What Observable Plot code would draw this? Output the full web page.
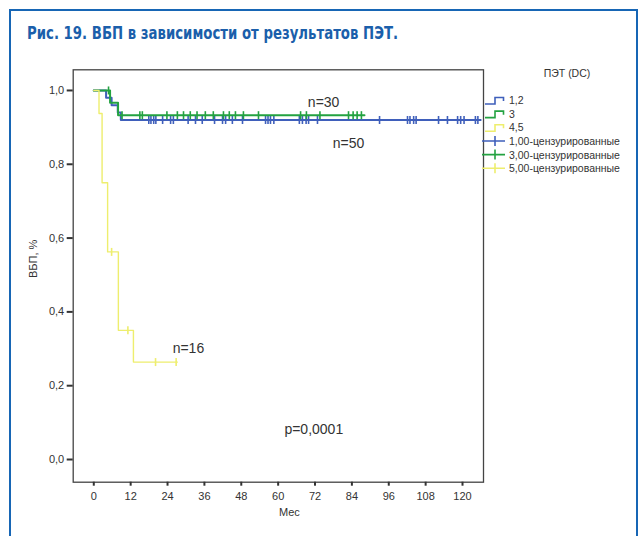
<!DOCTYPE html>
<html>
<head>
<meta charset="utf-8">
<script src="https://cdn.jsdelivr.net/npm/d3@7"></script>
<script src="https://cdn.jsdelivr.net/npm/@observablehq/plot@0.6"></script>
<style>
  html, body { margin: 0; padding: 0; background: #fff; }
  #wrap { position: relative; width: 644px; height: 536px; overflow: hidden; font-family: "Liberation Sans", Arial, sans-serif; }
  #box { position: absolute; left: 9px; top: 9px; width: 629px; height: 600px; border: 2.5px solid #1766b5; box-sizing: border-box; }
  #title { position: absolute; left: 0; top: 0; }
  #chart { position: absolute; left: 0; top: 0; }
</style>
</head>
<body>
<div id="wrap">
  <div id="box"></div>
  <svg id="title" width="644" height="50">
    <text x="27" y="39" textLength="371" lengthAdjust="spacingAndGlyphs"
      font-family="'Liberation Sans Narrow', 'DejaVu Sans Condensed', 'Liberation Sans', sans-serif"
      font-weight="bold" font-size="17" fill="#1b5fab">Рис. 19. ВБП в зависимости от результатов ПЭТ.</text>
  </svg>
  <div id="chart"></div>
</div>
<script>
// PET groups (Deauville score) and their sizes
const groups = ["1,2", "3", "4,5"];
const groupN = [50, 30, 16];
const groupColors = ["#3f5fbb", "#23a241", "#eeee6e"];
const censorLabels = ["1,00-цензурированные", "3,00-цензурированные", "5,00-цензурированные"];
const legendTitle = "ПЭТ (DC)";

// Kaplan–Meier: event times (months) and survival after each event
const blueEventTimes = [4.0, 5.8, 7.8, 8.8];
const blueSurvival = [0.98, 0.96, 0.94, 0.92];
const blueCensored = [17.9, 18.6, 19.5, 20.2, 22.4, 25.0, 25.9, 30.7, 33.1, 35.3, 39.3, 41.9, 42.9, 45.1, 48.4,
  55.9, 56.7, 57.5, 58.6, 66.9, 67.9, 69.1, 69.9, 72.8, 93.0, 102.1, 102.9, 104.1, 104.9, 112.2, 115.1,
  118.4, 119.4, 120.5, 124.2, 125.0];
const blueFollowUp = 125.9;

const greenEventTimes = [5.3, 7.9];
const greenSurvival = [0.967, 0.933];
const greenCensored = [4.8, 9.2, 15.0, 15.8, 23.8, 27.2, 29.2, 31.4, 33.6, 36.3, 38.9, 42.2, 44.1, 46.1, 48.7,
  53.6, 67.3, 69.2, 73.6, 82.9, 84.4, 85.7, 87.1];
const greenFollowUp = 88.1;

const yellowEventTimes = [1.7, 2.7, 4.5, 8.0, 12.9];
const yellowSurvival = [0.9375, 0.75, 0.5625, 0.35, 0.264];
const yellowCensored = [5.8, 11.1, 20.1, 26.8];
const yellowFollowUp = 27.2;

// axis ticks
const xTicks = [0, 12, 24, 36, 48, 60, 72, 84, 96, 108, 120];
const yTicks = [0, 0.2, 0.4, 0.6, 0.8, 1.0];

// annotations (anchored in data units: months, survival)
const notes = [
  {text: "n=30", t: 74.8, s: 0.967},
  {text: "n=50", t: 82.9, s: 0.856},
  {text: "n=16", t: 30.8, s: 0.301},
  {text: "p=0,0001", t: 71.6, s: 0.081}
];

const series = [
  {times: blueEventTimes, surv: blueSurvival, cens: blueCensored, end: blueFollowUp, width: 2},
  {times: greenEventTimes, surv: greenSurvival, cens: greenCensored, end: greenFollowUp, width: 2},
  {times: yellowEventTimes, surv: yellowSurvival, cens: yellowCensored, end: yellowFollowUp, width: 1.4}
].map((d, i) => ({...d, group: groups[i], color: groupColors[i]}));

function survivalAt(times, surv, t) {
  let s = 1;
  for (let i = 0; i < times.length; ++i) if (times[i] <= t) s = surv[i];
  return s;
}

function curvePoints(d) {
  const pts = [{t: 0, s: 1, group: d.group}];
  d.times.forEach((t, i) => pts.push({t, s: d.surv[i], group: d.group}));
  pts.push({t: d.end, s: d.surv[d.surv.length - 1], group: d.group});
  return pts;
}

function censorPoints(d) {
  return d.cens.map(t => ({t, s: survivalAt(d.times, d.surv, t), group: d.group}));
}

// vertical tick used as the censoring marker
const censorTick = {
  draw(context, size) {
    const h = Math.sqrt(size / Math.PI);
    context.moveTo(0, -h);
    context.lineTo(0, h);
  }
};

const comma = d => d.toFixed(1).replace(".", ",");

const marks = [Plot.frame({stroke: "#444", strokeWidth: 1.3})];
series.forEach(d => {
  marks.push(Plot.line(curvePoints(d), {x: "t", y: "s", curve: "step-after", stroke: d.color, strokeWidth: d.width}));
  marks.push(Plot.dot(censorPoints(d), {x: "t", y: "s", symbol: censorTick, r: 4, fill: "none", stroke: d.color, strokeWidth: 1.6}));
});
marks.push(
  Plot.axisX({ticks: xTicks, tickSize: 4, tickPadding: 6, strokeWidth: 2, stroke: "#333", label: null, fill: "#333"}),
  Plot.axisY({ticks: yTicks, tickSize: 6, tickPadding: 3, strokeWidth: 2, stroke: "#333", tickFormat: comma, label: null, fill: "#333"}),
  Plot.text(["ВБП, %"], {frameAnchor: "left", rotate: -90, dx: -40, dy: 2, fill: "#333", fontSize: 11}),
  Plot.text(["Мес"], {frameAnchor: "bottom", dx: 11, dy: 34, fill: "#333", fontSize: 11}),
  Plot.text(notes, {x: "t", y: "s", text: "text", fill: "#333", fontSize: 14, textAnchor: "middle", lineAnchor: "middle"})
);

const chart = Plot.plot({
  width: 644,
  height: 536,
  marginLeft: 72.7,
  marginRight: 161,
  marginTop: 69.3,
  marginBottom: 54.3,
  x: {domain: [-6.7, 126.83]},
  y: {domain: [-0.0615, 1.056]},
  style: {fontFamily: "'Liberation Sans', Arial, sans-serif", fontSize: "11px", background: "transparent", color: "#333"},
  marks
});

// legend to the right of the frame
const svg = d3.select(chart);
const lg = svg.append("g")
  .attr("font-family", "'Liberation Sans', Arial, sans-serif")
  .attr("font-size", 10.5)
  .attr("fill", "#333")
  .attr("text-anchor", "start");
lg.append("text").attr("x", 567).attr("y", 77).attr("text-anchor", "middle").text(legendTitle);
const rowY = i => 100 + i * 13.65;
series.forEach((d, i) => {
  const y = rowY(i);
  lg.append("path")
    .attr("d", `M485,${y + 4}H495V${y - 2.5}H503.5V${y + 1}`)
    .attr("fill", "none").attr("stroke", d.color).attr("stroke-width", 1.6);
  lg.append("text").attr("x", 509).attr("y", y + 4).attr("text-anchor", "start").text(d.group);
});
series.forEach((d, i) => {
  const y = rowY(i + 3);
  lg.append("path").attr("d", `M482,${y}H505M495,${y - 5}V${y + 5}`)
    .attr("fill", "none").attr("stroke", d.color).attr("stroke-width", 1.6);
  lg.append("text").attr("x", 509).attr("y", y + 4).attr("text-anchor", "start").text(censorLabels[i]);
});

document.getElementById("chart").appendChild(chart);
</script>
</body>
</html>
